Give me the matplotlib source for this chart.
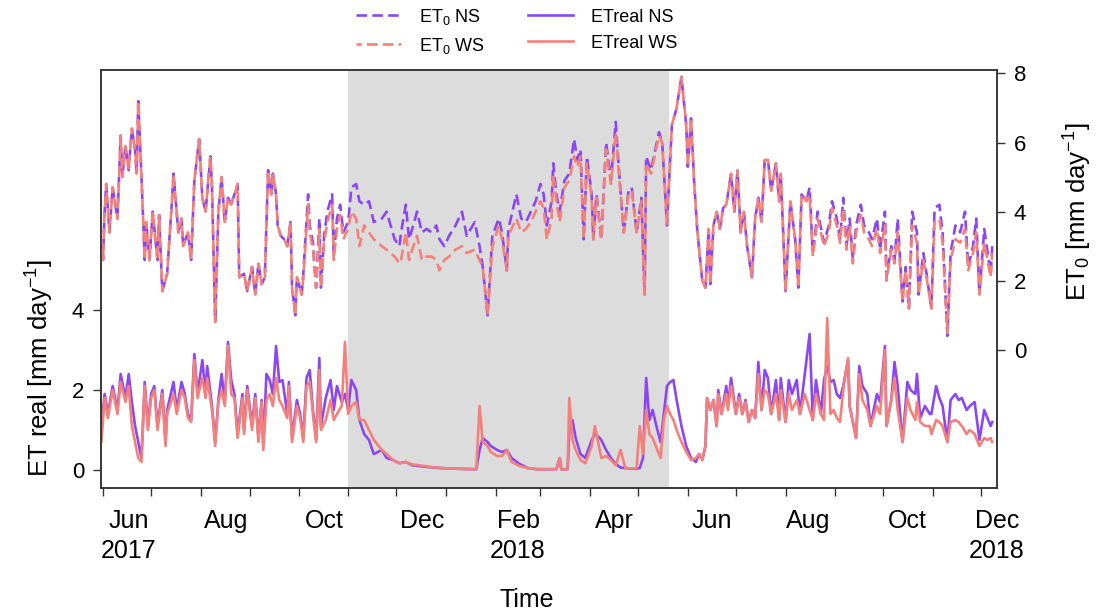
import matplotlib
matplotlib.use("Agg")
import matplotlib.pyplot as plt
import pandas as pd

plt.rcParams["font.family"] = ["Liberation Sans", "DejaVu Sans"]
plt.rcParams["mathtext.fontset"] = "custom"
plt.rcParams["mathtext.rm"] = "Liberation Sans"
plt.rcParams["mathtext.it"] = "Liberation Sans:italic"
plt.rcParams["mathtext.bf"] = "Liberation Sans:bold"

START = pd.Timestamp("2017-06-01")

# reference evapotranspiration ET0, days after 1 Jun 2017
et0_day = [-1, 0, 1, 2, 4, 6, 9, 11, 12, 14,
           16, 18, 20, 21, 22, 24, 26, 27, 29, 31,
           34, 35, 37, 40, 43, 44, 47, 49, 50, 53,
           55, 57, 60, 62, 64, 67, 68, 70, 72, 74,
           76, 78, 80, 82, 84, 85, 88, 90, 93, 95,
           97, 99, 101, 103, 105, 106, 108, 109, 111, 113,
           115, 117, 118, 120, 121, 124, 125, 128, 129, 131,
           133, 135, 136, 138, 140, 143, 144, 146, 148, 150,
           153, 155, 158, 160, 163, 166, 169, 174, 177, 182,
           185, 186, 189, 191, 193, 196, 199, 202, 205, 208,
           210, 213, 216, 220, 224, 227, 232, 235, 237, 240,
           243, 247, 249, 252, 253, 258, 261, 264, 267, 270,
           273, 275, 277, 280, 281, 283, 285, 288, 291, 294,
           296, 298, 300, 302, 305, 306, 308, 311, 314, 317,
           320, 322, 325, 328, 330, 333, 336, 338, 339, 342,
           347, 349, 352, 355, 358, 361, 364, 365, 367, 369,
           371, 374, 376, 378, 379, 381, 383, 385, 387, 389,
           392, 394, 396, 398, 400, 402, 405, 407, 409, 411,
           413, 415, 417, 420, 422, 423, 426, 429, 432, 434,
           436, 439, 441, 443, 446, 450, 453, 455, 458, 460,
           462, 464, 466, 468, 470, 473, 475, 478, 480, 483,
           485, 488, 489, 492, 494, 496, 499, 501, 503, 505,
           508, 509, 512, 514, 517, 519, 522, 524, 527, 529,
           532, 535, 538, 540, 543, 545, 547, 550, 554, 555]

et0_ns = [3.2, 2.6, 4.0, 4.8, 3.4, 4.7, 3.8, 6.2, 5.0, 5.9,
          5.2, 6.4, 5.8, 5.1, 7.2, 5.0, 2.6, 3.7, 2.6, 4.0,
          2.6, 3.9, 1.7, 2.2, 4.3, 5.1, 3.4, 3.8, 3.0, 3.4,
          2.6, 4.9, 6.1, 4.4, 4.0, 5.6, 4.7, 0.8, 4.0, 5.0,
          3.7, 4.4, 4.2, 4.5, 4.8, 2.1, 2.2, 1.7, 2.4, 1.6,
          2.5, 1.9, 2.1, 5.2, 4.5, 5.1, 4.5, 3.6, 3.3, 3.2,
          3.0, 3.7, 1.8, 1.0, 2.1, 1.6, 2.2, 4.5, 3.6, 3.1,
          1.8, 3.8, 1.8, 3.3, 4.0, 4.5, 2.7, 3.8, 4.2, 3.4,
          3.7, 4.7, 4.8, 4.3, 4.2, 4.3, 3.7, 3.8, 4.0, 3.2,
          3.0, 3.4, 4.2, 3.2, 3.5, 4.0, 3.4, 3.5, 3.4, 3.6,
          3.2, 3.0, 3.3, 3.6, 4.0, 3.3, 3.7, 3.0, 2.4, 1.0,
          3.3, 3.8, 3.4, 2.3, 3.5, 4.5, 3.8, 3.7, 4.0, 4.3,
          4.8, 4.5, 3.6, 4.3, 5.4, 4.5, 4.0, 4.9, 5.1, 6.1,
          5.5, 5.8, 3.2, 5.6, 4.5, 3.2, 4.5, 3.2, 6.0, 4.9,
          6.6, 5.2, 3.4, 4.6, 4.7, 3.4, 4.4, 1.6, 5.6, 5.2,
          6.3, 6.0, 3.6, 6.5, 7.0, 7.9, 6.5, 5.3, 6.7, 4.8,
          3.4, 2.0, 1.8, 3.5, 1.9, 3.6, 4.0, 3.5, 4.1, 4.2,
          5.1, 4.0, 5.2, 3.4, 4.0, 3.0, 2.1, 3.8, 4.4, 3.7,
          5.5, 5.5, 4.6, 5.4, 4.3, 5.1, 1.7, 4.3, 3.2, 1.8,
          4.5, 4.3, 4.7, 2.8, 4.0, 3.1, 3.6, 4.3, 3.8, 3.2,
          4.4, 3.0, 3.8, 2.6, 3.6, 4.2, 3.6, 3.4, 3.2, 3.8,
          2.9, 4.0, 2.1, 3.0, 2.6, 3.8, 1.4, 2.4, 1.2, 4.0,
          3.4, 1.6, 2.8, 2.2, 1.2, 4.1, 4.2, 3.4, 0.4, 2.8,
          3.6, 3.4, 4.0, 2.4, 3.0, 3.8, 1.6, 3.5, 2.2, 3.0]

et0_ws = [3.2, 2.6, 4.0, 4.8, 3.4, 4.7, 3.8, 6.2, 5.0, 5.9,
          5.2, 6.4, 5.8, 5.1, 7.2, 5.0, 2.6, 3.7, 2.6, 4.0,
          2.6, 3.9, 1.7, 2.2, 4.3, 5.1, 3.4, 3.8, 3.0, 3.4,
          2.6, 4.9, 6.1, 4.4, 4.0, 5.6, 4.7, 0.8, 4.0, 5.0,
          3.7, 4.4, 4.2, 4.5, 4.8, 2.1, 2.2, 1.7, 2.4, 1.6,
          2.5, 1.9, 2.1, 5.2, 4.5, 5.1, 4.5, 3.6, 3.3, 3.2,
          3.0, 3.7, 1.8, 1.0, 2.1, 1.6, 2.1, 4.2, 3.4, 2.9,
          1.8, 3.5, 1.8, 3.1, 3.7, 4.2, 2.6, 3.5, 3.9, 3.2,
          3.5, 4.0, 3.8, 3.0, 3.6, 3.4, 3.2, 3.0, 2.9, 2.7,
          2.5, 2.6, 3.4, 2.6, 2.9, 3.3, 2.6, 2.7, 2.7, 2.6,
          2.3, 2.6, 2.7, 2.9, 3.0, 2.8, 2.9, 2.6, 2.4, 1.0,
          3.0, 3.6, 3.2, 2.3, 3.3, 3.8, 3.4, 3.5, 3.7, 4.0,
          4.3, 4.1, 3.2, 3.8, 5.1, 4.3, 3.7, 4.7, 4.9, 5.6,
          5.3, 5.6, 3.2, 5.4, 4.4, 3.2, 4.4, 3.2, 5.8, 4.8,
          6.3, 5.1, 3.4, 4.5, 4.6, 3.4, 4.3, 1.6, 5.4, 5.1,
          6.2, 6.0, 3.6, 6.5, 7.0, 7.9, 6.5, 5.3, 6.7, 4.8,
          3.4, 2.0, 1.8, 3.5, 1.9, 3.6, 4.0, 3.5, 4.1, 4.2,
          5.1, 4.0, 5.2, 3.4, 4.0, 3.0, 2.1, 3.8, 4.4, 3.7,
          5.5, 5.5, 4.6, 5.4, 4.3, 5.1, 1.7, 4.3, 3.2, 1.8,
          4.5, 4.3, 4.5, 2.7, 3.8, 3.0, 3.4, 4.1, 3.6, 3.1,
          4.1, 2.9, 3.6, 2.5, 3.4, 3.9, 3.4, 3.2, 3.0, 3.5,
          2.8, 3.6, 2.0, 2.9, 2.5, 3.4, 1.4, 2.3, 1.2, 3.6,
          3.1, 1.6, 2.6, 2.1, 1.2, 3.7, 3.8, 3.1, 0.5, 2.6,
          3.2, 3.1, 3.5, 2.3, 2.8, 3.4, 1.6, 3.1, 2.1, 2.8]

# actual evapotranspiration, days after 1 Jun 2017
etr_day = [-1, 1, 3, 6, 9, 11, 14, 16, 18, 20,
           22, 24, 26, 28, 30, 32, 34, 37, 39, 40,
           44, 46, 49, 51, 53, 55, 57, 59, 62, 64,
           65, 68, 70, 72, 74, 76, 78, 80, 82, 84,
           87, 88, 90, 93, 95, 97, 99, 100, 102, 104,
           106, 108, 110, 112, 115, 116, 118, 121, 123, 125,
           127, 129, 131, 133, 135, 136, 139, 142, 144, 146,
           149, 151, 153, 155, 158, 160, 163, 166, 169, 174,
           177, 181, 185, 189, 193, 197, 204, 210, 222, 233,
           235, 237, 240, 242, 246, 249, 252, 255, 260, 265,
           271, 283, 285, 286, 290, 291, 293, 295, 298, 301,
           305, 307, 310, 311, 314, 317, 320, 323, 326, 330,
           333, 335, 337, 339, 341, 343, 346, 348, 350, 352,
           354, 356, 358, 361, 364, 367, 370, 372, 374, 376,
           377, 379, 381, 383, 384, 386, 389, 390, 392, 395,
           397, 399, 401, 403, 405, 407, 409, 411, 413, 415,
           417, 420, 422, 423, 426, 428, 430, 433, 435, 438,
           441, 443, 445, 448, 450, 452, 454, 456, 458, 460,
           462, 465, 466, 470, 472, 474, 477, 479, 483, 485,
           488, 489, 492, 494, 496, 499, 502, 504, 507, 508,
           510, 513, 516, 517, 520, 522, 524, 527, 529, 532,
           534, 536, 539, 541, 544, 547, 550, 552, 554, 555]

etr_ns = [1.1, 1.9, 1.4, 2.1, 1.5, 2.4, 1.8, 2.4, 1.7, 1.1,
          0.7, 0.3, 2.2, 1.1, 1.9, 2.1, 1.1, 2.0, 0.7, 1.5,
          2.2, 1.5, 2.2, 1.9, 1.4, 1.25, 2.9, 1.9, 2.75, 1.9,
          2.6, 1.6, 0.7, 1.75, 2.4, 1.7, 3.2, 2.25, 1.9, 0.9,
          1.9, 1.0, 2.1, 1.1, 1.9, 0.8, 1.75, 0.6, 2.4, 2.25,
          1.9, 3.1, 2.2, 2.25, 1.4, 2.2, 0.8, 1.75, 1.4, 0.8,
          2.3, 2.5, 1.5, 0.75, 2.8, 1.1, 1.8, 2.25, 1.5, 2.1,
          1.7, 1.9, 1.5, 2.25, 2.0, 1.25, 0.9, 0.75, 0.4, 0.5,
          0.3, 0.25, 0.17, 0.2, 0.12, 0.1, 0.07, 0.05, 0.03, 0.02,
          0.5, 0.8, 0.7, 0.6, 0.5, 0.45, 0.5, 0.3, 0.15, 0.05,
          0.02, 0.02, 0.3, 0.02, 0.02, 1.0, 1.25, 0.8, 0.4, 0.3,
          0.75, 0.9, 0.8, 0.75, 0.5, 0.3, 0.15, 0.06, 0.05, 0.03,
          0.03, 0.05, 0.3, 2.3, 1.25, 1.5, 1.0, 0.7, 1.4, 2.1,
          2.2, 2.25, 1.75, 1.1, 0.6, 0.3, 0.2, 0.4, 0.25, 0.6,
          1.8, 1.5, 1.75, 1.1, 2.0, 1.4, 2.1, 1.6, 2.3, 1.4,
          1.9, 1.4, 1.75, 1.2, 1.5, 1.3, 2.7, 1.5, 2.5, 2.3,
          1.4, 2.25, 1.25, 2.3, 1.2, 2.25, 1.9, 2.25, 1.4, 2.4,
          3.4, 1.25, 2.25, 1.4, 2.25, 2.6, 2.2, 2.25, 1.9, 1.8,
          2.1, 2.75, 1.6, 0.8, 2.6, 2.1, 1.9, 1.1, 1.9, 1.7,
          3.1, 1.1, 1.75, 2.7, 2.1, 0.7, 2.2, 2.0, 1.9, 2.4,
          1.3, 1.6, 1.4, 1.4, 2.1, 1.8, 1.6, 0.7, 1.75, 1.9,
          1.75, 1.8, 1.5, 1.6, 1.7, 0.75, 1.5, 1.3, 1.1, 1.2]

etr_ws = [0.7, 1.8, 1.3, 2.0, 1.4, 2.2, 1.7, 2.1, 1.1, 0.7,
          0.3, 0.2, 2.1, 1.0, 1.8, 2.0, 1.0, 1.9, 0.6, 1.4,
          1.9, 1.4, 2.0, 1.8, 1.3, 1.2, 2.75, 1.8, 2.3, 1.8,
          2.3, 1.5, 0.6, 1.7, 2.0, 1.6, 3.1, 1.9, 1.8, 0.8,
          1.8, 0.9, 2.0, 1.0, 1.8, 0.7, 1.7, 0.5, 1.75, 1.9,
          1.6, 2.3, 1.75, 1.6, 1.3, 2.1, 0.7, 1.6, 1.3, 0.7,
          2.1, 2.2, 1.4, 0.7, 2.5, 1.0, 1.25, 1.75, 1.25, 1.4,
          1.6, 3.2, 1.4, 1.6, 1.7, 1.25, 1.25, 1.0, 0.75, 0.5,
          0.4, 0.25, 0.17, 0.2, 0.14, 0.12, 0.08, 0.05, 0.03, 0.02,
          1.6, 0.7, 0.6, 0.45, 0.35, 0.35, 0.5, 0.2, 0.1, 0.05,
          0.02, 0.02, 0.3, 0.02, 0.02, 1.8, 0.75, 0.5, 0.25, 0.17,
          0.6, 1.1, 0.5, 0.3, 0.35, 0.25, 0.12, 0.5, 0.05, 0.04,
          0.04, 1.1, 0.4, 1.5, 0.9, 0.8, 0.5, 0.3, 1.25, 1.6,
          1.4, 1.25, 1.0, 0.7, 0.45, 0.25, 0.3, 0.4, 0.25, 0.6,
          1.8, 1.5, 1.75, 1.1, 1.9, 1.4, 1.9, 1.5, 2.1, 1.4,
          1.8, 1.4, 1.7, 1.2, 1.5, 1.3, 2.4, 1.5, 2.0, 1.9,
          1.4, 1.9, 1.25, 2.0, 1.2, 1.9, 1.5, 1.75, 1.4, 1.9,
          1.5, 1.25, 1.9, 1.4, 1.25, 3.8, 1.4, 1.5, 1.3, 1.2,
          2.0, 2.8, 1.6, 0.8, 2.4, 1.75, 1.5, 1.1, 1.6, 1.4,
          3.0, 1.1, 1.75, 2.3, 1.5, 0.7, 1.8, 1.5, 1.25, 1.7,
          1.2, 1.1, 1.1, 0.9, 1.25, 1.2, 1.1, 0.7, 1.2, 1.25,
          1.2, 1.1, 0.9, 1.0, 0.9, 0.6, 0.8, 0.75, 0.8, 0.7]

# period shaded in grey
shade_start = "2017-11-01"
shade_end = "2018-05-20"

month_labels = ["Jun\n2017", "Aug", "Oct", "Dec", "Feb\n2018",
                "Apr", "Jun", "Aug", "Oct", "Dec\n2018"]
label_dates = ["2017-06-17", "2017-08-17", "2017-10-17", "2017-12-17", "2018-02-15",
               "2018-04-16", "2018-06-16", "2018-08-15", "2018-10-16", "2018-12-11"]

PURPLE = "#8b47f2"
CORAL = "#f4807a"
SPINE = "#333333"


def to_dates(days):
    return START + pd.to_timedelta(days, unit="D")


fig = plt.figure(figsize=(10.97, 6.13), dpi=100)
ax = fig.add_axes([0.0921, 0.2039, 0.8168, 0.6819])
ax2 = ax.twinx()

ax.axvspan(pd.Timestamp(shade_start), pd.Timestamp(shade_end), color="#dcdcdc", lw=0, zorder=0)

l3, = ax.plot(to_dates(etr_day), etr_ns, color=PURPLE, lw=1.9, label="ETreal NS")
l4, = ax.plot(to_dates(etr_day), etr_ws, color=CORAL, lw=1.9, label="ETreal WS")
l1, = ax2.plot(to_dates(et0_day), et0_ns, color=PURPLE, lw=1.9, ls=(0, (4, 2)), label="ET$_0$ NS")
l2, = ax2.plot(to_dates(et0_day), et0_ws, color=CORAL, lw=1.9, ls=(2, (4, 2)), label="ET$_0$ WS")

ax.set_xlim(pd.Timestamp("2017-05-30 18:00"), pd.Timestamp("2018-12-09 16:00"))
ax.set_ylim(-0.45, 10.0)
ax2.set_ylim(-4.0, 8.1)

ax.set_yticks([0, 2, 4])
ax2.set_yticks([0, 2, 4, 6, 8])

# month ticks at the start of each month, labels in mid month
ax.set_xticks(pd.date_range("2017-06-01", "2018-12-01", freq="MS"))
ax.set_xticklabels([])
ax.set_xticks(pd.to_datetime(label_dates), minor=True)
ax.set_xticklabels(month_labels, minor=True, fontsize=18, linespacing=1.3)
ax.tick_params(axis="x", which="minor", length=0, pad=15)
ax.tick_params(axis="x", which="major", length=6, width=1, color=SPINE)
ax.tick_params(axis="y", length=6, width=1, color=SPINE, labelsize=16, pad=6)
ax2.tick_params(axis="y", length=6, width=1, color=SPINE, labelsize=16, pad=6)

for a in (ax, ax2):
    for s in a.spines.values():
        s.set_color(SPINE)
        s.set_linewidth(1.1)

ax.set_ylabel("ET real [mm day$^{-1}$]", fontsize=18.5, va="center")
ax.yaxis.set_label_coords(-0.068, 0.287)
ax2.set_ylabel("ET$_0$ [mm day$^{-1}$]", fontsize=18.5, va="center")
ax2.yaxis.set_label_coords(1.090, 0.66)
ax.set_xlabel("Time", fontsize=18, va="center")
ax.xaxis.set_label_coords(0.475, -0.268)

fig.legend(handles=[l1, l2, l3, l4], ncol=2, loc="center", bbox_to_anchor=(0.471, 0.949),
           frameon=False, fontsize=13, handlelength=2.5, handletextpad=1.0,
           columnspacing=2.4, labelspacing=0.5, borderpad=0)

fig.savefig("out.png", dpi=100)
